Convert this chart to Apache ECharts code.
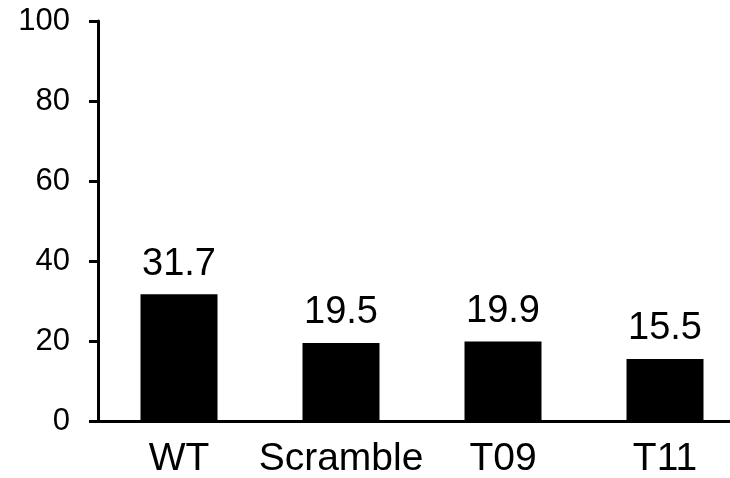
<!DOCTYPE html>
<html>
<head>
<meta charset="utf-8">
<script src="https://cdn.jsdelivr.net/npm/echarts@6/dist/echarts.min.js"></script>
<style>
  html, body { margin: 0; padding: 0; background: #ffffff; }
  #chart { width: 730px; height: 478px; }
</style>
</head>
<body>
<div id="chart"></div>
<script>
// Groups shown along the bottom axis
const categories = ['WT', 'Scramble', 'T09', 'T11'];
// Measured value for each group
const values = [31.7, 19.5, 19.9, 15.5];
// Value axis range and step
const yMin = 0;
const yMax = 100;
const yStep = 20;

const FONT = '"Liberation Sans", Arial, sans-serif';

const chart = echarts.init(document.getElementById('chart'), null, { renderer: 'canvas' });

chart.setOption({
  animation: false,
  backgroundColor: '#ffffff',
  // the plot area runs past the right edge, so the last band is cut off
  grid: { left: 98, width: 648, top: 21, bottom: 57, containLabel: false, outerBoundsMode: 'none' },
  xAxis: {
    type: 'category',
    data: categories,
    axisLine: { show: true, lineStyle: { color: '#000', width: 3 } },
    axisTick: { show: false },
    axisLabel: { color: '#000', fontFamily: FONT, fontSize: 39, margin: 19, interval: 0 },
    splitLine: { show: false }
  },
  yAxis: {
    type: 'value',
    min: yMin,
    max: yMax,
    interval: yStep,
    axisLine: { show: true, lineStyle: { color: '#000', width: 3 } },
    axisTick: { show: true, length: 9, lineStyle: { color: '#000', width: 3 } },
    axisLabel: { color: '#000', fontFamily: FONT, fontSize: 31, margin: 28 },
    splitLine: { show: false }
  },
  series: [{
    type: 'bar',
    data: values,
    barWidth: 77,
    itemStyle: { color: '#000' },
    label: {
      show: true,
      position: 'top',
      distance: 11,
      color: '#000',
      fontFamily: FONT,
      fontSize: 38,
      formatter: p => p.value.toFixed(1)
    }
  }]
});
</script>
</body>
</html>
